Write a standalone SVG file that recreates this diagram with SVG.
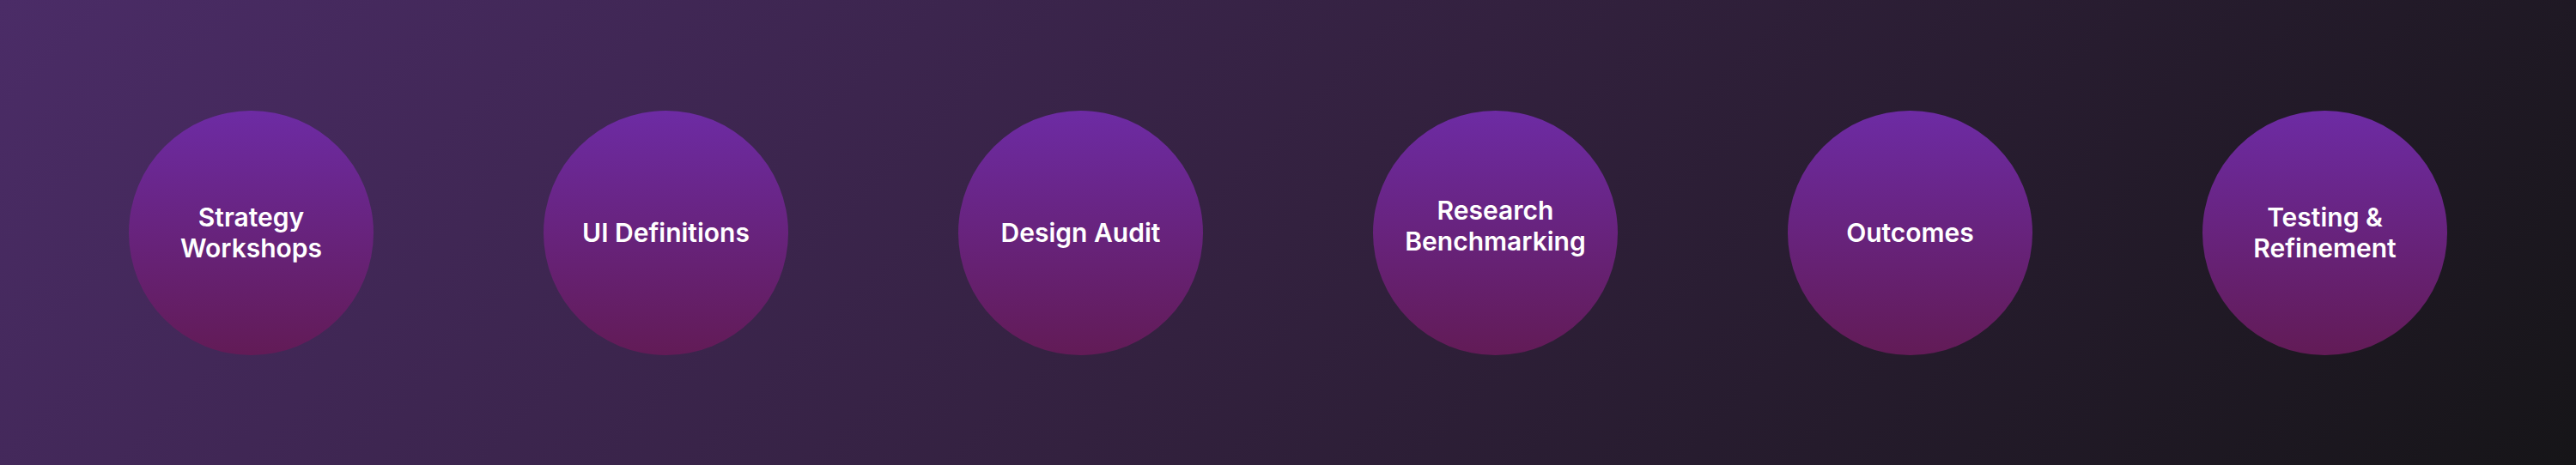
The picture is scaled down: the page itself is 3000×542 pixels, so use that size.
<svg xmlns="http://www.w3.org/2000/svg" width="3000" height="542" viewBox="0 0 3000 542">
  <defs>
    <linearGradient id="bg" gradientUnits="userSpaceOnUse" x1="614.6" y1="-614.4" x2="2385.4" y2="1156.4">
      <stop offset="0" stop-color="#4b2c67"/>
      <stop offset="0.5" stop-color="#33213f"/>
      <stop offset="1" stop-color="#161518"/>
    </linearGradient>
    <linearGradient id="node" x1="0" y1="0" x2="0" y2="1">
      <stop offset="0" stop-color="#6d2ba4"/>
      <stop offset="1" stop-color="#621b56"/>
    </linearGradient>
  </defs>
  <style>
    .c { fill: url(#node); }
    .t { font-family: Inter, "Noto Sans", "Liberation Sans", sans-serif; font-weight: 600; font-size: 30px; fill: #ffffff; text-anchor: middle; }
  </style>
  <rect x="0" y="0" width="3000" height="542" fill="url(#bg)"/>
  <g id="connectors"></g>
  <g id="node-strategy-workshops">
    <circle class="c" cx="292.5" cy="271.5" r="142.5"/>
    <text class="t" x="292.5" y="264">Strategy</text>
    <text class="t" x="292.5" y="300">Workshops</text>
  </g>
  <g id="node-ui-definitions">
    <circle class="c" cx="775.5" cy="271.5" r="142.5"/>
    <text class="t" x="775.5" y="282">UI Definitions</text>
  </g>
  <g id="node-design-audit">
    <circle class="c" cx="1258.5" cy="271.5" r="142.5"/>
    <text class="t" x="1258.5" y="282">Design Audit</text>
  </g>
  <g id="node-research-benchmarking">
    <circle class="c" cx="1741.5" cy="271.5" r="142.5"/>
    <text class="t" x="1741.5" y="256">Research</text>
    <text class="t" x="1741.5" y="292">Benchmarking</text>
  </g>
  <g id="node-outcomes">
    <circle class="c" cx="2224.5" cy="271.5" r="142.5"/>
    <text class="t" x="2224.5" y="282">Outcomes</text>
  </g>
  <g id="node-testing-refinement">
    <circle class="c" cx="2707.5" cy="271.5" r="142.5"/>
    <text class="t" x="2707.5" y="264">Testing &amp;</text>
    <text class="t" x="2707.5" y="300">Refinement</text>
  </g>
</svg>
